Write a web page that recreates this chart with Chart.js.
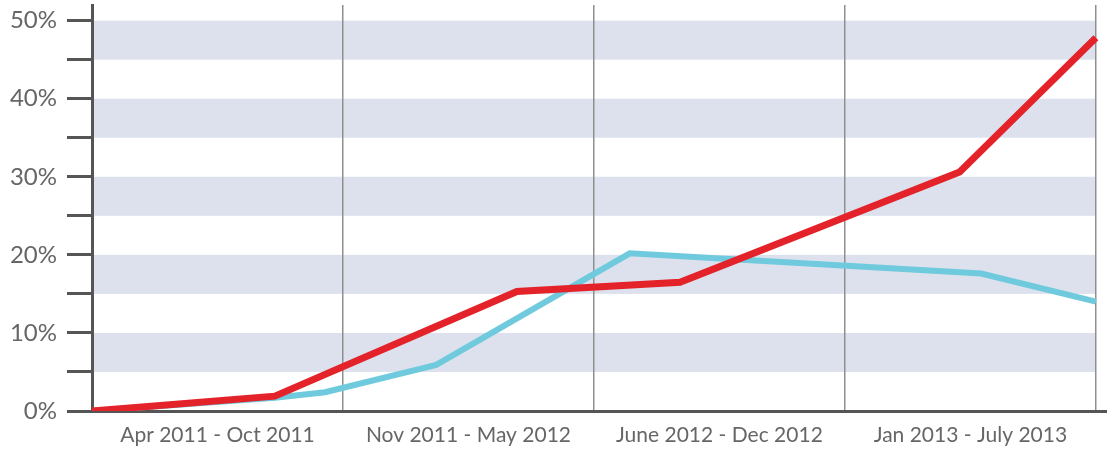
<!DOCTYPE html>
<html>
<head>
<meta charset="utf-8">
<script src="https://cdn.jsdelivr.net/npm/chart.js@4/dist/chart.umd.min.js"></script>
<style>
  html, body { margin: 0; padding: 0; background: #fff; }
  #wrap { position: relative; width: 1107px; height: 449px; }
</style>
</head>
<body>
<div id="wrap"><canvas id="chart"></canvas></div>
<script>
// periods of 7 months each, x values are months since Apr 2011
const periods = ["Apr 2011 - Oct 2011", "Nov 2011 - May 2012", "June 2012 - Dec 2012", "Jan 2013 - July 2013"];
const periodMonths = 7;

const redMonths = [0, 5.1, 11.85, 16.4, 24.2, 28];
const redValues = [0, 1.9, 15.3, 16.5, 30.6, 47.8];

const blueMonths = [0, 5.1, 6.5, 9.6, 15, 24.8, 28];
const blueValues = [0, 1.7, 2.4, 5.9, 20.2, 17.6, 14.0];

const yTicks = [0, 5, 10, 15, 20, 25, 30, 35, 40, 45, 50];

const toPoints = (xs, ys) => xs.map((x, i) => ({ x: x, y: ys[i] }));

const lastMonth = periods.length * periodMonths;
const xTicks = [];
for (let i = 0; i < periods.length; i++) {
  xTicks.push(i * periodMonths + periodMonths / 2);
  xTicks.push((i + 1) * periodMonths);
}

// light stripes 5-10, 15-20, ... drawn under the grid
const stripes = {
  id: "stripes",
  beforeDraw: (chart) => {
    const { ctx, scales } = chart;
    const x0 = scales.x.getPixelForValue(0);
    const x1 = scales.x.getPixelForValue(lastMonth);
    ctx.save();
    ctx.fillStyle = "#dce1ed";
    yTicks.forEach((v) => {
      if (v % 10 === 0 && v > 0) {
        const top = scales.y.getPixelForValue(v);
        const bottom = scales.y.getPixelForValue(v - 5);
        ctx.fillRect(x0, top, x1 - x0, bottom - top);
      }
    });
    ctx.restore();
  },
};

new Chart(document.getElementById("chart").getContext("2d"), {
  type: "line",
  data: {
    datasets: [
      {
        data: toPoints(redMonths, redValues),
        borderColor: "#e32329",
        borderWidth: 7,
        pointRadius: 0,
        tension: 0,
      },
      {
        data: toPoints(blueMonths, blueValues),
        borderColor: "#6ecadc",
        borderWidth: 6,
        pointRadius: 0,
        tension: 0,
      },
    ],
  },
  options: {
    responsive: true,
    maintainAspectRatio: false,
    animation: false,
    layout: { padding: { top: 5, right: 0, left: 0, bottom: 0 } },
    plugins: { legend: { display: false }, tooltip: { enabled: false } },
    scales: {
      x: {
        type: "linear",
        min: 0,
        max: lastMonth + 0.31,
        afterBuildTicks: (axis) => {
          axis.ticks = xTicks.map((v) => ({ value: v }));
        },
        afterFit: (axis) => {
          axis.height = 38;
          axis.paddingLeft = 0;
          axis.paddingRight = 0;
        },
        ticks: {
          autoSkip: false,
          maxRotation: 0,
          padding: 12,
          color: "#666",
          font: { family: "Lato", size: 21 },
          callback: (value) =>
            value % periodMonths === 0 ? "" : periods[Math.floor(value / periodMonths)],
        },
        grid: {
          drawTicks: false,
          color: (c) => (c.tick && c.tick.value % periodMonths === 0 ? "#8f8f8f" : "rgba(0,0,0,0)"),
          lineWidth: 1.5,
        },
        border: { display: true, color: "#555", width: 3 },
      },
      y: {
        min: 0,
        max: 52,
        afterBuildTicks: (axis) => {
          axis.ticks = yTicks.map((v) => ({ value: v }));
        },
        afterFit: (axis) => {
          axis.width = 92;
          axis.paddingTop = 0;
          axis.paddingBottom = 0;
        },
        ticks: {
          padding: 10,
          color: "#666",
          font: { family: "Lato", size: 24 },
          callback: (value) => (value % 10 === 0 ? value + "%" : ""),
        },
        grid: {
          drawOnChartArea: false,
          drawTicks: true,
          tickLength: 25,
          tickColor: "#555",
          tickWidth: 3,
          lineWidth: 3,
        },
        border: { display: true, color: "#555", width: 3 },
      },
    },
  },
  plugins: [stripes],
});
</script>
</body>
</html>
